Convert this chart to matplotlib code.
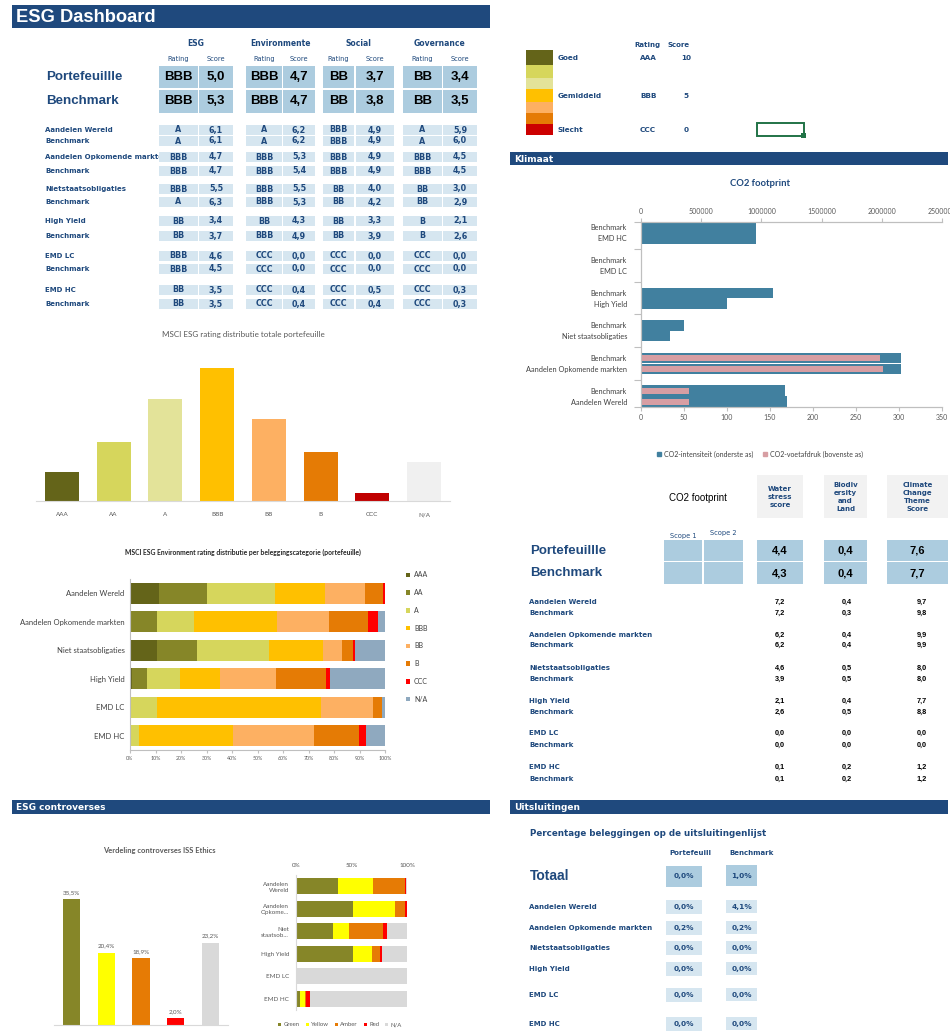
import matplotlib
matplotlib.use('Agg')
import matplotlib.pyplot as plt
from matplotlib.patches import Rectangle, Patch

W, H = 950, 1031

## colours used all over the sheet
NAVY = '#1F497D'
BOX_DARK = '#acccdf'
BOX_LIGHT = '#d6e6f0'
GREY_TXT = '#595959'
CHART_FONT = 'Lato'
LABEL_FONT = 'DejaVu Sans'
VALUE_FONT = 'Liberation Sans'

## ESG ratings table
pillars = ['ESG', 'Environmente', 'Social', 'Governance']
summary_names = ['Portefeuillle', 'Benchmark']
summary_ratings = [['BBB', 'BBB', 'BB', 'BB'], ['BBB', 'BBB', 'BB', 'BB']]
summary_scores = [[5.0, 4.7, 3.7, 3.4], [5.3, 4.7, 3.8, 3.5]]

detail_names = ['Aandelen Wereld', 'Benchmark', 'Aandelen Opkomende markten', 'Benchmark',
                'Nietstaatsobligaties', 'Benchmark', 'High Yield', 'Benchmark',
                'EMD LC', 'Benchmark', 'EMD HC', 'Benchmark']
detail_ratings = [['A', 'A', 'BBB', 'A'], ['A', 'A', 'BBB', 'A'],
                  ['BBB', 'BBB', 'BBB', 'BBB'], ['BBB', 'BBB', 'BBB', 'BBB'],
                  ['BBB', 'BBB', 'BB', 'BB'], ['A', 'BBB', 'BB', 'BB'],
                  ['BB', 'BB', 'BB', 'B'], ['BB', 'BBB', 'BB', 'B'],
                  ['BBB', 'CCC', 'CCC', 'CCC'], ['BBB', 'CCC', 'CCC', 'CCC'],
                  ['BB', 'CCC', 'CCC', 'CCC'], ['BB', 'CCC', 'CCC', 'CCC']]
detail_scores = [[6.1, 6.2, 4.9, 5.9], [6.1, 6.2, 4.9, 6.0],
                 [4.7, 5.3, 4.9, 4.5], [4.7, 5.4, 4.9, 4.5],
                 [5.5, 5.5, 4.0, 3.0], [6.3, 5.3, 4.2, 2.9],
                 [3.4, 4.3, 3.3, 2.1], [3.7, 4.9, 3.9, 2.6],
                 [4.6, 0.0, 0.0, 0.0], [4.5, 0.0, 0.0, 0.0],
                 [3.5, 0.4, 0.5, 0.3], [3.5, 0.4, 0.4, 0.3]]

## rating scale
scale_colors = ['#646419', '#d6d65c', '#e3e399', '#ffc000', '#fdb062', '#e57b05', '#cc0000']
scale_words = ['Goed', '', '', 'Gemiddeld', '', '', 'Slecht']
scale_ratings = ['AAA', '', '', 'BBB', '', '', 'CCC']
scale_scores = ['10', '', '', '5', '', '', '0']

## MSCI rating distribution (total portfolio, %)
msci_labels = ['AAA', 'AA', 'A', 'BBB', 'BB', 'B', 'CCC', 'N/A']
msci_share = [5.8, 11.8, 20.4, 26.6, 16.4, 9.8, 1.6, 7.8]
msci_colors = ['#646419', '#d6d65c', '#e3e399', '#ffc000', '#fdb062', '#e57b05', '#c00000', '#f0f0f0']

## environment rating per asset class (%)
env_cats = ['Aandelen Wereld', 'Aandelen Opkomende markten', 'Niet staatsobligaties',
            'High Yield', 'EMD LC', 'EMD HC']
env_AAA = [11.2, 0.0, 10.5, 0.9, 0.0, 0.0]
env_AA = [18.9, 10.5, 15.6, 5.6, 0.0, 0.0]
env_A = [26.8, 14.7, 28.3, 13.1, 10.5, 3.7]
env_BBB = [19.6, 32.6, 21.4, 15.7, 64.5, 36.8]
env_BB = [15.5, 20.4, 7.2, 22.0, 20.4, 31.7]
env_B = [7.1, 15.3, 4.3, 19.6, 3.4, 17.5]
env_CCC = [0.8, 3.6, 0.9, 1.5, 0.0, 2.8]
env_NA = [0.1, 2.9, 11.8, 21.6, 1.2, 7.5]
env_colors = ['#646419', '#868628', '#d6d65c', '#ffc000', '#fdb062', '#e57b05', '#ff0000', '#8fa9bf']

## CO2 footprint, bottom to top
co2_labels = ['Aandelen Wereld', 'Benchmark', 'Aandelen Opkomende markten', 'Benchmark',
              'Niet staatsobligaties', 'Benchmark', 'High Yield', 'Benchmark',
              'EMD LC', 'Benchmark', 'EMD HC', 'Benchmark']
co2_intensity = [170, 168, 302, 302, 34, 50, 100, 153, 0, 0, 134, 134]
co2_footprint = [400000, 400000, 2010000, 1985000, 0, 0, 0, 0, 0, 0, 0, 0]

## theme scores
theme_cols = ['Water\nstress\nscore', 'Biodiv\nersity\nand\nLand', 'Climate\nChange\nTheme\nScore']
theme_summary = [[4.4, 0.4, 7.6], [4.3, 0.4, 7.7]]
theme_water = [7.2, 7.2, 6.2, 6.2, 4.6, 3.9, 2.1, 2.6, 0.0, 0.0, 0.1, 0.1]
theme_biodiv = [0.4, 0.3, 0.4, 0.4, 0.5, 0.5, 0.4, 0.5, 0.0, 0.0, 0.2, 0.2]
theme_climate = [9.7, 9.8, 9.9, 9.9, 8.0, 8.0, 7.7, 8.8, 0.0, 0.0, 1.2, 1.2]

## controversies
contr_labels = ['Green', 'Yellow', 'Amber', 'Red', 'N/A']
contr_share = [35.5, 20.4, 18.9, 2.0, 23.2]
contr_colors = ['#868628', '#ffff00', '#e67b05', '#ff0000', '#d9d9d9']
contr_cats = ['Aandelen\nWereld', 'Aandelen\nOpkome...', 'Niet\nstaatsob...', 'High Yield', 'EMD LC', 'EMD HC']
contr_green = [37.7, 51.8, 33.1, 51.8, 0.0, 3.9]
contr_yellow = [31.6, 37.7, 14.2, 16.6, 0.0, 4.5]
contr_amber = [28.6, 8.4, 31.0, 7.2, 0.0, 0.9]
contr_red = [1.5, 2.1, 3.3, 1.5, 0.0, 3.6]
contr_na = [0.6, 0.0, 18.4, 22.9, 100.0, 87.1]

## exclusions
excl_names = ['Aandelen Wereld', 'Aandelen Opkomende markten', 'Nietstaatsobligaties',
              'High Yield', 'EMD LC', 'EMD HC']
excl_total = [0.0, 1.0]
excl_port = [0.0, 0.2, 0.0, 0.0, 0.0, 0.0]
excl_bench = [4.1, 0.2, 0.0, 0.0, 0.0, 0.0]


def fmt(v):
    return '{:.1f}'.format(v).replace('.', ',')


def pct(v):
    return fmt(v) + '%'


fig = plt.figure(figsize=(W / 100, H / 100), dpi=100)
fig.patch.set_facecolor('white')

# background layer in pixel coordinates for the sheet cells
bg = fig.add_axes([0, 0, 1, 1])
bg.set_xlim(0, W)
bg.set_ylim(H, 0)
bg.axis('off')


def ax_box(x0, y0, x1, y1):
    return fig.add_axes([x0 / W, 1 - y1 / H, (x1 - x0) / W, (y1 - y0) / H])


def cell(x0, y0, x1, y1, color, z=2):
    bg.add_patch(Rectangle((x0, y0), x1 - x0, y1 - y0, fc=color, ec='none', zorder=z))


def txt(x, y, s, size=5, color=NAVY, bold=True, family=LABEL_FONT, ha='left', z=3, **kw):
    bg.text(x, y, s, fontsize=size, color=color, fontweight='bold' if bold else 'normal',
            family=family, ha=ha, va='center', zorder=z, **kw)


def section_bar(x0, x1, y0, y1, title, size=6.5):
    cell(x0, y0, x1, y1, NAVY)
    txt(x0 + 4, (y0 + y1) / 2 + 0.5, title, size=size, color='white')


## title bars
section_bar(12, 490, 5, 28, '', 1)
txt(16, 17, 'ESG Dashboard', size=13.2, color='white', family=VALUE_FONT)
section_bar(510, 948, 152, 165, 'Klimaat')
section_bar(12, 490, 800, 814, 'ESG controverses')
section_bar(510, 948, 800, 814, 'Uitsluitingen')

## ratings table
rating_x = [(159, 198), (246, 282), (323, 354), (403, 442)]
score_x = [(199, 233), (283, 315), (356, 394), (443, 477)]
for i, p in enumerate(pillars):
    txt((rating_x[i][0] + score_x[i][1]) / 2, 44, p, size=5.5, ha='center')
    txt(sum(rating_x[i]) / 2, 59, 'Rating', size=4.8, ha='center', bold=False)
    txt(sum(score_x[i]) / 2, 59, 'Score', size=4.8, ha='center', bold=False)

summary_y = [(66, 88), (90, 113)]
for r, name in enumerate(summary_names):
    y0, y1 = summary_y[r]
    yc = (y0 + y1) / 2
    txt(46, yc, name, size=9.6, family=VALUE_FONT)
    for i in range(4):
        cell(rating_x[i][0], y0, rating_x[i][1], y1, BOX_DARK)
        cell(score_x[i][0], y0, score_x[i][1], y1, BOX_DARK)
        txt(sum(rating_x[i]) / 2, yc, summary_ratings[r][i], size=9.5, color='black',
            family=VALUE_FONT, ha='center')
        txt(sum(score_x[i]) / 2, yc, fmt(summary_scores[r][i]), size=9.5, color='black',
            family=VALUE_FONT, ha='center')

detail_y = [130, 141, 157, 171, 189, 202, 221, 236, 256, 269, 290, 304]
for r, name in enumerate(detail_names):
    yc = detail_y[r]
    txt(45, yc, name, size=5, z=1)
    for i in range(4):
        cell(rating_x[i][0], yc - 5, rating_x[i][1], yc + 5, BOX_LIGHT)
        cell(score_x[i][0], yc - 5, score_x[i][1], yc + 5, BOX_LIGHT)
        txt(sum(rating_x[i]) / 2, yc, detail_ratings[r][i], size=5.8, ha='center')
        txt(sum(score_x[i]) / 2, yc, fmt(detail_scores[r][i]), size=5.8, ha='center')

## rating scale legend
scale_edges = [50, 65, 78, 89, 102, 113, 124, 135]
txt(634, 45, 'Rating', size=5, ha='left')
txt(668, 45, 'Score', size=5, ha='left')
for k, c in enumerate(scale_colors):
    y0, y1 = scale_edges[k], scale_edges[k + 1]
    cell(526, y0, 553, y1, c)
    if scale_words[k]:
        yc = (y0 + y1) / 2 + 1
        txt(558, yc, scale_words[k], size=5.2)
        txt(640, yc, scale_ratings[k], size=5.2)
        txt(686, yc, scale_scores[k], size=5.2, ha='center')
bg.add_patch(Rectangle((757, 123), 47, 13, fc='none', ec='#217346', lw=1.4, zorder=3))
cell(801, 133, 806, 138, '#217346', z=4)

## MSCI rating distribution
ax_m = ax_box(36, 340, 450, 501)
ax_m.bar(range(len(msci_share)), msci_share, width=0.66, color=msci_colors)
ax_m.set_xlim(-0.5, len(msci_share) - 0.5)
ax_m.set_ylim(0, 32.2)
ax_m.set_xticks(range(len(msci_labels)))
ax_m.set_xticklabels(msci_labels, fontsize=4.5, color=GREY_TXT, family=CHART_FONT)
ax_m.tick_params(axis='x', length=0, pad=8)
ax_m.set_yticks([])
for s in ['top', 'right', 'left']:
    ax_m.spines[s].set_visible(False)
ax_m.spines['bottom'].set_color('#d9d9d9')
ax_m.patch.set_alpha(0)
txt(243, 334, 'MSCI ESG rating distributie totale portefeuille', size=5.8, color=GREY_TXT,
    bold=False, family=CHART_FONT, ha='center')

## environment rating stacked bars
ax_e = ax_box(130, 579, 385, 750)
env_series = [env_AAA, env_AA, env_A, env_BBB, env_BB, env_B, env_CCC, env_NA]
left = [0.0] * len(env_cats)
for vals, col, lab in zip(env_series, env_colors, msci_labels):
    ax_e.barh(range(len(env_cats)), vals, left=left, height=0.74, color=col, label=lab)
    left = [a + b for a, b in zip(left, vals)]
ax_e.set_ylim(len(env_cats) - 0.5, -0.5)
ax_e.set_xlim(0, 100)
ax_e.set_yticks(range(len(env_cats)))
ax_e.set_yticklabels(env_cats, fontsize=5.5, color='#404040', family=CHART_FONT)
ax_e.set_xticks(range(0, 101, 10))
ax_e.set_xticklabels(['{}%'.format(v) for v in range(0, 101, 10)], fontsize=3.8,
                     color=GREY_TXT, family=CHART_FONT)
ax_e.tick_params(axis='y', length=0, pad=4)
ax_e.tick_params(axis='x', length=2.5, color='#bfbfbf', pad=1.5)
for s in ['top', 'right']:
    ax_e.spines[s].set_visible(False)
ax_e.spines['left'].set_color('#bfbfbf')
ax_e.spines['bottom'].set_color('#bfbfbf')
ax_e.patch.set_alpha(0)
ax_e.legend(loc='upper left', bbox_to_anchor=(400 / W, 1 - 565 / H),
            bbox_transform=fig.transFigure, frameon=False,
            prop={'family': CHART_FONT, 'size': 5}, handlelength=0.6, handleheight=0.6,
            handletextpad=0.5, labelspacing=1.55, labelcolor='#404040')
txt(243, 552, 'MSCI ESG Environment rating distributie per beleggingscategorie (portefeuille)',
    size=4.9, color='#262626', family=CHART_FONT, ha='center')

## CO2 footprint chart
co2_pos = [3 * (k // 2) + k % 2 for k in range(len(co2_labels))]
ax_c = ax_box(641, 222, 942, 407)
ax_c.barh(co2_pos, co2_intensity, height=0.96, color='#41809f')
ax_c.set_ylim(-0.5, co2_pos[-1] + 0.5)
ax_c.set_xlim(0, 350)
ax_c.set_xticks(range(0, 351, 50))
ax_c.set_xticklabels([str(v) for v in range(0, 351, 50)], fontsize=5, color=GREY_TXT,
                     family=CHART_FONT)
group_edges = [-0.5] + [3 * g + 2 for g in range(5)] + [co2_pos[-1] + 0.5]
ax_c.set_yticks(group_edges)
ax_c.set_yticklabels([])
ax_c.set_yticks(co2_pos, minor=True)
ax_c.set_yticklabels(co2_labels, minor=True, fontsize=5.3, color='#404040', family=CHART_FONT)
ax_c.tick_params(axis='y', which='major', length=5, color='#bfbfbf')
ax_c.tick_params(axis='y', which='minor', length=0, pad=10)
ax_c.tick_params(axis='x', length=3, color='#bfbfbf', pad=2)
ax_c.patch.set_alpha(0)
ax_t = ax_c.twiny()
ax_t.barh(co2_pos, co2_footprint, height=0.55, color='#d79ea3')
ax_t.set_xlim(0, 2500000)
ax_t.set_xticks(range(0, 2500001, 500000))
ax_t.set_xticklabels([str(v) for v in range(0, 2500001, 500000)], fontsize=5,
                     color=GREY_TXT, family=CHART_FONT)
ax_t.tick_params(axis='x', length=3, color='#bfbfbf', pad=2)
for a in (ax_c, ax_t):
    a.spines['right'].set_visible(False)
    for s in ['top', 'bottom', 'left']:
        a.spines[s].set_color('#bfbfbf')
txt(760, 184, 'CO2 footprint', size=6.8, color=NAVY, family=CHART_FONT, ha='center')
ax_c.legend([Patch(color='#41809f'), Patch(color='#d79ea3')],
            ['CO2-intensiteit (onderste as)', 'CO2-voetafdruk (bovenste as)'],
            loc='center', bbox_to_anchor=(760 / W, 1 - 454 / H), bbox_transform=fig.transFigure,
            ncol=2, frameon=False, prop={'family': CHART_FONT, 'size': 5},
            handlelength=0.5, handleheight=0.5, handletextpad=0.4, columnspacing=1.5,
            labelcolor='#404040')

## theme score table
txt(669, 498, 'CO2 footprint', size=7, color='black', bold=False, family=VALUE_FONT)
theme_x = [(757, 803), (824, 867), (887, 948)]
for i, head in enumerate(theme_cols):
    cell(theme_x[i][0], 475, theme_x[i][1], 518, '#f2f2f2')
    txt(sum(theme_x[i]) / 2, 497, head, size=5, ha='center', linespacing=1.45)
txt(683, 536, 'Scope 1', size=4.8, ha='center', bold=False)
txt(723, 533, 'Scope 2', size=4.8, ha='center', bold=False)
theme_row_y = [(540, 561), (562, 584)]
for r, name in enumerate(summary_names):
    y0, y1 = theme_row_y[r]
    yc = (y0 + y1) / 2
    txt(530, yc, name, size=9.5, family=VALUE_FONT)
    cell(664, y0, 702, y1, BOX_DARK)
    cell(704, y0, 743, y1, BOX_DARK)
    for i in range(3):
        cell(theme_x[i][0], y0, theme_x[i][1], y1, BOX_DARK)
        txt(sum(theme_x[i]) / 2, yc, fmt(theme_summary[r][i]), size=8, color='black',
            family=VALUE_FONT, ha='center')
theme_y = [602, 613, 635, 645, 668, 679, 701, 712, 733, 745, 767, 779]
theme_val_x = [780, 847, 922]
for r, name in enumerate(detail_names):
    txt(529, theme_y[r], name, size=5)
    for i, vals in enumerate([theme_water, theme_biodiv, theme_climate]):
        txt(theme_val_x[i], theme_y[r], fmt(vals[r]), size=5.3, color='black',
            family=VALUE_FONT, ha='center')

## controversies bar chart
ax_v = ax_box(54, 870, 228, 1025)
bars = ax_v.bar(range(len(contr_share)), contr_share, width=0.49, color=contr_colors)
ax_v.bar_label(bars, labels=[pct(v) for v in contr_share], fontsize=4.5, color=GREY_TXT,
               family=CHART_FONT, padding=3)
ax_v.set_xlim(-0.5, len(contr_share) - 0.5)
ax_v.set_ylim(0, 43.7)
ax_v.set_xticks([])
ax_v.set_yticks([])
for s in ['top', 'right', 'left']:
    ax_v.spines[s].set_visible(False)
ax_v.spines['bottom'].set_color('#d9d9d9')
ax_v.patch.set_alpha(0)
txt(159, 851, 'Verdeling controverses ISS Ethics', size=5.4, color=GREY_TXT,
    family=CHART_FONT, ha='center')

## controversies per asset class
ax_s = ax_box(296, 875, 407, 1010)
left = [0.0] * len(contr_cats)
for vals, col, lab in zip([contr_green, contr_yellow, contr_amber, contr_red, contr_na],
                          contr_colors, contr_labels):
    ax_s.barh(range(len(contr_cats)), vals, left=left, height=0.71, color=col, label=lab)
    left = [a + b for a, b in zip(left, vals)]
ax_s.set_ylim(len(contr_cats) - 0.5, -0.5)
ax_s.set_xlim(0, 100)
ax_s.xaxis.tick_top()
ax_s.set_xticks([0, 50, 100])
ax_s.set_xticklabels(['0%', '50%', '100%'], fontsize=4.5, color=GREY_TXT, family=CHART_FONT)
ax_s.set_yticks(range(len(contr_cats)))
ax_s.set_yticklabels(contr_cats, fontsize=4.5, color=GREY_TXT, family=CHART_FONT,
                     linespacing=1.3)
ax_s.tick_params(length=0, pad=5)
for s in ['top', 'right', 'bottom']:
    ax_s.spines[s].set_visible(False)
ax_s.spines['left'].set_color('#d9d9d9')
ax_s.patch.set_alpha(0)
ax_s.legend(loc='center', bbox_to_anchor=(340 / W, 1 - 1025 / H), bbox_transform=fig.transFigure,
            ncol=5, frameon=False, prop={'family': CHART_FONT, 'size': 4.3},
            handlelength=0.5, handleheight=0.5, handletextpad=0.4, columnspacing=1.0,
            labelcolor=GREY_TXT)

## exclusion list
txt(530, 833, 'Percentage beleggingen op de uitsluitingenlijst', size=6.3)
txt(669, 853, 'Portefeuill', size=5)
txt(729, 853, 'Benchmark', size=5)
txt(530, 876, 'Totaal', size=10, family=VALUE_FONT)
cell(666, 866, 702, 887, BOX_DARK)
cell(726, 865, 757, 886, BOX_DARK)
txt(684, 876, pct(excl_total[0]), size=5.3, ha='center')
txt(741.5, 876, pct(excl_total[1]), size=5.3, ha='center')
excl_y = [907, 928, 948, 969, 995, 1024]
for r, name in enumerate(excl_names):
    yc = excl_y[r]
    txt(529, yc, name, size=5)
    cell(666, yc - 7, 702, yc + 6.5, BOX_LIGHT)
    cell(726, yc - 7.5, 757, yc + 6, BOX_LIGHT)
    txt(684, yc, pct(excl_port[r]), size=5.3, ha='center')
    txt(741.5, yc, pct(excl_bench[r]), size=5.3, ha='center')

plt.savefig('out.png', dpi=100)
